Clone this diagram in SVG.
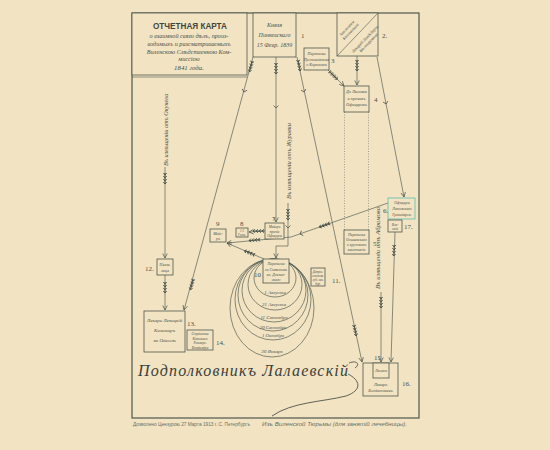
<svg xmlns="http://www.w3.org/2000/svg" xmlns:xlink="http://www.w3.org/1999/xlink" width="550" height="450" viewBox="0 0 550 450">
<style>
.bg{fill:#f2e3c2}
.box{fill:#f2e3c2;stroke:#4f574d;stroke-width:0.8}
.ln{fill:none;stroke:#5a6257;stroke-width:0.7}
.dot{fill:none;stroke:#6a7065;stroke-width:0.6;stroke-dasharray:1 1.6}
.el{fill:none;stroke:#565e53;stroke-width:0.7}
.t{font-family:"Liberation Serif",serif;font-style:italic;fill:#4a5148;text-anchor:middle}
.n{font-family:"Liberation Serif",serif;fill:#4a5148;font-size:7px}
.ttl{font-family:"Liberation Sans",sans-serif;font-weight:bold;fill:#3f463e;text-anchor:middle;font-size:9px}
.sig{font-family:"Liberation Serif",serif;font-style:italic;fill:#3a403a;font-size:16px}
.cap{font-family:"Liberation Sans",sans-serif;fill:#6a7065;font-size:4.6px}
</style>
<defs>
<marker id="ar" viewBox="0 0 8 8" refX="7" refY="4" markerWidth="6" markerHeight="6" orient="auto" markerUnits="userSpaceOnUse">
<path d="M1,1 L7,4 L1,7" fill="none" stroke="#4f574d" stroke-width="1"/>
</marker>
<g id="fe"><path d="M-5,0 L6,0 M-5,-1.7 L-3,0 L-5,1.7 M-2,-1.7 L0,0 L-2,1.7 M1,-1.7 L3,0 L1,1.7 M4,-1.7 L6,0 L4,1.7" fill="none" stroke="#4a5249" stroke-width="0.9"/></g>
<g id="ch"><path d="M-2.5,-2.5 L0,0 L-2.5,2.5" fill="none" stroke="#4f574d" stroke-width="0.8"/></g>
</defs>
<rect class="bg" x="0" y="0" width="550" height="450"/>

<g id="frame">
<rect x="132" y="13" width="287" height="405" fill="none" stroke="#4f574d" stroke-width="1.2"/>
<line x1="132" y1="77" x2="247" y2="77" stroke="#4f574d" stroke-width="0.6"/>
</g>

<g id="title">
<rect class="box" x="132" y="13" width="115" height="62"/>
<text class="ttl" x="190" y="29" textLength="74" lengthAdjust="spacingAndGlyphs">ОТЧЕТНАЯ КАРТА</text>
<text class="t" x="189" y="38" font-size="6.2">о взаимной связи дѣлъ, произ-</text>
<text class="t" x="189" y="46" font-size="6.2">водимыхъ и разсматриваемыхъ</text>
<text class="t" x="189" y="54" font-size="6.2">Виленскою Слѣдственною Ком-</text>
<text class="t" x="189" y="61" font-size="6.2">миссіею</text>
<text class="t" x="189" y="70" font-size="6.8">1841 года.</text>
</g>

<g id="connectors">
<path class="ln" d="M253,57 L184,310" marker-end="url(#ar)"/>
<path class="ln" d="M276,57 L276,222" marker-end="url(#ar)"/>
<path class="ln" d="M297,57 L362,362" marker-end="url(#ar)"/>
<path class="ln" d="M328,70 L344,86" marker-end="url(#ar)"/>
<path class="ln" d="M357,56 L357,85" marker-end="url(#ar)"/>
<path class="ln" d="M377,57 L404,197" marker-end="url(#ar)"/>
<path class="ln" d="M388,203 L291,237 L227,243" marker-end="url(#ar)"/>
<path class="ln" d="M265,231 L249,232" marker-end="url(#ar)"/>
<path class="ln" d="M264,259 L227,243" marker-end="url(#ar)"/>
<path class="ln" d="M288,203 L288,246 L276,246 L276,258" marker-end="url(#ar)"/>
<path class="ln" d="M165,167 L165,258" marker-end="url(#ar)"/>
<path class="ln" d="M165,275 L165,310" marker-end="url(#ar)"/>
<path class="ln" d="M381,292 L381,362" marker-end="url(#ar)"/>
<path class="ln" d="M395,232 L391,362" marker-end="url(#ar)"/>
<path class="dot" d="M344.5,112 V230 M368.5,112 V230"/>
<use xlink:href="#fe" transform="translate(251,66) rotate(105)"/>
<use xlink:href="#ch" transform="translate(244,92) rotate(105)"/>
<use xlink:href="#fe" transform="translate(192,284) rotate(105)"/>
<use xlink:href="#fe" transform="translate(276,68) rotate(90)"/>
<use xlink:href="#ch" transform="translate(276,108) rotate(90)"/>
<use xlink:href="#fe" transform="translate(299,65) rotate(78)"/>
<use xlink:href="#ch" transform="translate(304,92) rotate(78)"/>
<use xlink:href="#fe" transform="translate(355,330) rotate(78)"/>
<use xlink:href="#fe" transform="translate(333,75) rotate(45)"/>
<use xlink:href="#fe" transform="translate(357,65) rotate(90)"/>
<use xlink:href="#ch" transform="translate(386,104) rotate(79)"/>
<use xlink:href="#fe" transform="translate(325,225) rotate(160)"/>
<use xlink:href="#ch" transform="translate(300,234) rotate(160)"/>
<use xlink:href="#fe" transform="translate(255,240) rotate(175)"/>
<use xlink:href="#fe" transform="translate(259,231) rotate(180)"/>
<use xlink:href="#fe" transform="translate(250,253) rotate(203)"/>
<use xlink:href="#fe" transform="translate(288,214) rotate(90)"/>
<use xlink:href="#ch" transform="translate(288,228) rotate(90)"/>
<use xlink:href="#fe" transform="translate(165,178) rotate(90)"/>
<use xlink:href="#fe" transform="translate(165,287) rotate(90)"/>
<use xlink:href="#fe" transform="translate(381,302) rotate(90)"/>
<use xlink:href="#fe" transform="translate(394,250) rotate(92)"/>
</g>

<g id="line-labels">
<text class="t" font-size="5.5" transform="translate(168,130) rotate(-90)" textLength="72" lengthAdjust="spacingAndGlyphs">Въ извѣщеніи отъ Окунева</text>
<text class="t" font-size="5.5" transform="translate(291,161) rotate(-90)" textLength="76" lengthAdjust="spacingAndGlyphs">Въ извѣщеніи отъ Журавки</text>
<text class="t" font-size="5.5" transform="translate(380,248) rotate(-90)" textLength="82" lengthAdjust="spacingAndGlyphs">Въ извѣщеніи отъ Абрамова</text>
</g>

<g id="n10-periods">
<ellipse class="el" cx="272" cy="308" rx="42" ry="49"/>
<ellipse class="el" cx="273" cy="299.5" rx="38" ry="40.5"/>
<ellipse class="el" cx="273" cy="295" rx="35" ry="36"/>
<ellipse class="el" cx="274" cy="290.5" rx="32" ry="31.5"/>
<ellipse class="el" cx="275" cy="284.5" rx="27" ry="25.5"/>
<ellipse class="el" cx="275" cy="278" rx="21" ry="19"/>
<text class="t" x="275" y="294" font-size="5">1 Августа</text>
<text class="t" x="274" y="306" font-size="5">21 Августа</text>
<text class="t" x="274" y="319" font-size="5">11 Сентября</text>
<text class="t" x="273" y="328.5" font-size="4.8">20 Сентября</text>
<text class="t" x="273" y="337" font-size="4.8">1 Октября</text>
<text class="t" x="272" y="353" font-size="5">30 Января</text>
</g>

<g id="n1">
<rect class="box" x="253" y="13" width="43" height="44"/>
<text class="t" x="274.5" y="27" font-size="6">Князя</text>
<text class="t" x="274.5" y="37" font-size="6">Пинкевскаго</text>
<text class="t" x="274.5" y="47" font-size="6">15 Февр. 1839</text>
<text class="n" x="301" y="38">1</text>
</g>
<g id="n2">
<rect class="box" x="337" y="13" width="41" height="43"/>
<line x1="337" y1="56" x2="378" y2="13" stroke="#4f574d" stroke-width="0.6"/>
<text class="t" font-size="4.2" transform="translate(348,29) rotate(-46)">Заключенiе<tspan x="0" dy="5">Козловскаго</tspan></text>
<text class="t" font-size="4.2" transform="translate(366,40) rotate(-46)">Лекарей Ландсберга<tspan x="0" dy="5">Бѣлозаровича</tspan></text>
<text class="n" x="382" y="38">2.</text>
</g>
<g id="n3">
<rect class="box" x="304" y="48" width="25" height="22"/>
<text class="t" x="316.5" y="55" font-size="4">Переписка</text>
<text class="t" x="316.5" y="60.5" font-size="4">Пустовойтова</text>
<text class="t" x="316.5" y="66" font-size="4">о Корзонахъ</text>
<text class="n" x="331" y="63">3</text>
</g>
<g id="n4">
<rect class="box" x="344" y="86" width="25" height="26"/>
<text class="t" x="356.5" y="93" font-size="4.3">До Лисовки</text>
<text class="t" x="356.5" y="99.5" font-size="4.3">и прочихъ</text>
<text class="t" x="356.5" y="106" font-size="4.3">Офицеровъ</text>
<text class="n" x="374" y="102">4</text>
</g>
<g id="n5">
<rect class="box" x="344" y="230" width="25" height="24"/>
<text class="t" x="356.5" y="236" font-size="3.8">Переписка</text>
<text class="t" x="356.5" y="241" font-size="3.8">Ольшевскаго</text>
<text class="t" x="356.5" y="246" font-size="3.8">о круговомъ</text>
<text class="t" x="356.5" y="251" font-size="3.8">заключеніи</text>
<text class="n" x="373" y="246">5.</text>
</g>
<g id="n6">
<rect class="box" x="388" y="198" width="27" height="21" style="stroke:#5bbdb0"/>
<text class="t" x="402" y="204" font-size="3.8">Офицеры</text>
<text class="t" x="402" y="210" font-size="3.8">Литовскаго</text>
<text class="t" x="402" y="216" font-size="3.8">Гренадерск.</text>
<text class="n" x="383" y="213" font-size="6">6.</text>
</g>
<g id="n17">
<rect class="box" x="388" y="220" width="14" height="12"/>
<text class="t" x="395" y="225.5" font-size="3.5">Вол-</text>
<text class="t" x="395" y="230" font-size="3.5">скій</text>
<text class="n" x="404" y="229" font-size="6">17.</text>
</g>
<g id="n7">
<rect class="box" x="265" y="223" width="19" height="16"/>
<text class="t" x="274.5" y="228" font-size="3.6">Мейеръ</text>
<text class="t" x="274.5" y="232.5" font-size="3.6">прочіе</text>
<text class="t" x="274.5" y="237" font-size="3.6">Офицеры</text>
<text class="n" x="272" y="221" font-size="6">7</text>
</g>
<g id="n8">
<rect class="box" x="236" y="228" width="12" height="9"/>
<text class="t" x="242" y="232" font-size="3">1-2</text>
<text class="t" x="242" y="236" font-size="3">Гуськ.</text>
<text class="n" x="240" y="226" font-size="6">8</text>
</g>
<g id="n9">
<rect class="box" x="210" y="229" width="16" height="13"/>
<text class="t" x="218" y="234.5" font-size="3.8">Мейс-</text>
<text class="t" x="218" y="240" font-size="3.8">ръ</text>
<text class="n" x="216" y="226" font-size="6">9</text>
</g>
<g id="n10">
<rect class="box" x="263" y="259" width="26" height="24"/>
<text class="t" x="276" y="265" font-size="3.8">Переписка</text>
<text class="t" x="276" y="270.5" font-size="3.8">съ Совѣтомъ</text>
<text class="t" x="276" y="276" font-size="3.8">кн. Дзялын-</text>
<text class="t" x="276" y="281" font-size="3.8">скаго</text>
<text class="n" x="254" y="277" font-size="6">10</text>
</g>
<g id="n11">
<rect class="box" x="311" y="268" width="14" height="18"/>
<text class="t" x="318" y="273" font-size="3.2">Допрос.</text>
<text class="t" x="318" y="277" font-size="3.2">отстав.</text>
<text class="t" x="318" y="281" font-size="3.2">губ. сек.</text>
<text class="t" x="318" y="285" font-size="3.2">бур.</text>
<text class="n" x="332" y="283" font-size="6.5">11.</text>
</g>
<g id="n12">
<rect class="box" x="157" y="259" width="16" height="16"/>
<text class="t" x="165" y="266" font-size="4">Неизв.</text>
<text class="t" x="165" y="272" font-size="4">лица</text>
<text class="n" x="145" y="271" font-size="6.5">12.</text>
</g>
<g id="n13">
<rect class="box" x="144" y="311" width="41" height="41"/>
<text class="t" x="164.5" y="322" font-size="5">Лекарь Левицкій</text>
<text class="t" x="164.5" y="332" font-size="5">Казимиръ</text>
<text class="t" x="164.5" y="342" font-size="5">въ Одессѣ</text>
<text class="n" x="187" y="326" font-size="6.5">13.</text>
</g>
<g id="n14">
<rect class="box" x="187" y="330" width="26" height="20"/>
<text class="t" x="200" y="335" font-size="3.7">Студенты</text>
<text class="t" x="200" y="339.5" font-size="3.7">Кіевскаго</text>
<text class="t" x="200" y="344" font-size="3.7">Универс.</text>
<text class="t" x="200" y="348.5" font-size="3.7">Владиміра</text>
<text class="n" x="216" y="345" font-size="6.5">14.</text>
</g>
<g id="n16">
<rect class="box" x="363" y="363" width="35" height="33"/>
<text class="t" x="380.5" y="386" font-size="4.5">Лекарь</text>
<text class="t" x="380.5" y="392" font-size="4.5">Богдановичъ</text>
<text class="n" x="402" y="386" font-size="6.5">16.</text>
</g>
<g id="n15">
<rect class="box" x="373" y="363" width="16" height="15"/>
<text class="t" x="381" y="372" font-size="4">Лесенъ</text>
<text class="n" x="374" y="360" font-size="6.5">15</text>
</g>

<g id="signature">
<text class="sig" x="138" y="376" textLength="210" lengthAdjust="spacing">Подполковникъ Лалаевскій</text>
<path d="M349,363 C356,360 361,364 355,368 M348,374 C360,380 363,390 346,396 C322,402 292,402 272,416" fill="none" stroke="#3a403a" stroke-width="0.8"/>
</g>

<g id="caption">
<text class="cap" x="133" y="426" textLength="117" lengthAdjust="spacingAndGlyphs">Дозволено Цензурою 27 Марта 1913 г. С. Петербургъ</text>
<text class="cap" x="262" y="426" font-style="italic" font-family="Liberation Serif, serif" font-size="5" textLength="145" lengthAdjust="spacingAndGlyphs">Изъ Виленской Тюрьмы (для занятій лечебницы).</text>
</g>
</svg>
